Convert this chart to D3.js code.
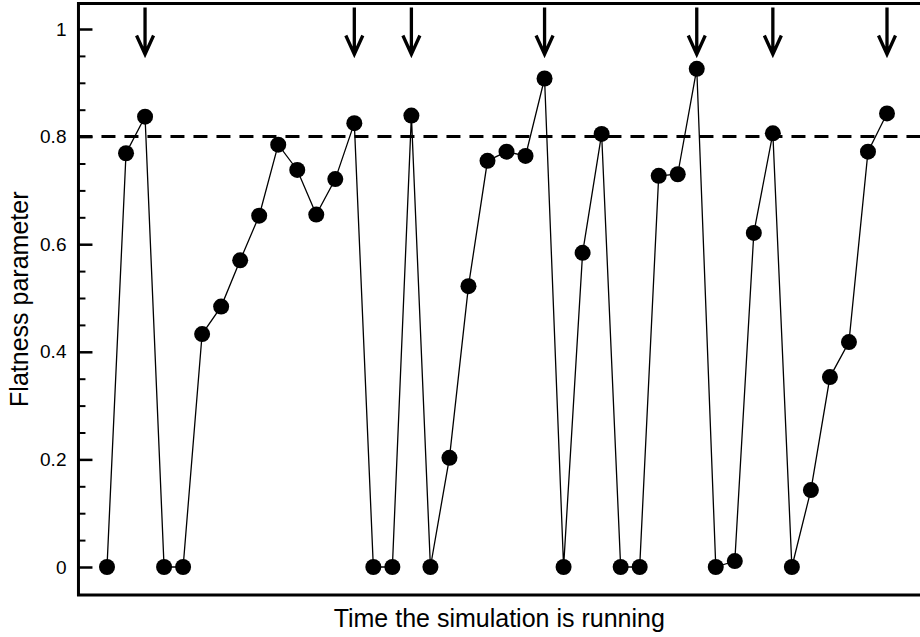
<!DOCTYPE html>
<html>
<head>
<meta charset="utf-8">
<script src="https://cdn.jsdelivr.net/npm/d3@7"></script>
<style>
  body { margin: 0; background: #fff; }
  svg { display: block; font-family: "Liberation Sans", Arial, Helvetica, sans-serif; }
  .tick text { font-size: 19px; fill: #000; }
  .axis-title { font-size: 25px; fill: #000; }
</style>
</head>
<body>
<svg class="chart"></svg>
<script>
// flatness parameter at each step of the simulation
var flatness = [
  0, 0.769, 0.837, 0, 0, 0.433, 0.484, 0.570, 0.653, 0.785,
  0.738, 0.655, 0.721, 0.825, 0, 0, 0.839, 0, 0.203, 0.522,
  0.755, 0.772, 0.764, 0.908, 0, 0.584, 0.805, 0, 0, 0.727,
  0.730, 0.926, 0, 0.011, 0.621, 0.806, 0, 0.143, 0.353, 0.418,
  0.772, 0.843
];
// steps marked with an arrow
var arrowSteps = [2, 13, 16, 23, 31, 35, 41];
var threshold = 0.8;
var yTickValues = [0, 0.2, 0.4, 0.6, 0.8, 1];
var yTickLabels = ["0", "0.2", "0.4", "0.6", "0.8", "1"];
var yMinorTicks = [0.05, 0.1, 0.15, 0.25, 0.3, 0.35, 0.45, 0.5, 0.55, 0.65, 0.7, 0.75, 0.85, 0.9, 0.95];

var width = 920, height = 637;

var x = d3.scaleLinear()
  .domain([0, flatness.length - 1])
  .range([107, 887]);
var y = d3.scaleLinear()
  .domain([0, 1])
  .range([567, 29]);

// frame edges in data units
var xLeft = -1.5, xRight = 43.5, yBottom = -0.052, yTop = 1.0475;

var svg = d3.select(".chart")
  .attr("width", width)
  .attr("height", height);

// frame
svg.append("path")
  .attr("d", "M" + x(xRight) + "," + y(yTop) + "H" + x(xLeft) + "V" + y(yBottom) + "H" + x(xRight))
  .attr("fill", "none")
  .attr("stroke", "#000")
  .attr("stroke-width", 3);

// inward ticks
var yAxis = d3.axisLeft(y)
  .tickValues(yTickValues)
  .tickFormat(function(d, i) { return yTickLabels[i]; })
  .tickSize(-14)
  .tickPadding(12);
var yMinor = d3.axisLeft(y)
  .tickValues(yMinorTicks)
  .tickFormat("")
  .tickSize(-7);

svg.append("g")
  .attr("transform", "translate(" + x(xLeft) + ",0)")
  .call(yAxis)
  .call(function(g) { g.select(".domain").remove(); })
  .call(function(g) { g.selectAll(".tick line").attr("stroke-width", 2.5); })
  .call(function(g) { g.selectAll(".tick text").attr("font-family", null).attr("font-size", null); });
svg.append("g")
  .attr("transform", "translate(" + x(xLeft) + ",0)")
  .call(yMinor)
  .call(function(g) { g.select(".domain").remove(); })
  .call(function(g) { g.selectAll(".tick line").attr("stroke-width", 2); });

// threshold line
svg.append("line")
  .attr("x1", x(xLeft))
  .attr("x2", x(xRight))
  .attr("y1", y(threshold))
  .attr("y2", y(threshold))
  .attr("stroke", "#000")
  .attr("stroke-width", 3)
  .attr("stroke-dasharray", "14,9");

var line = d3.line()
  .x(function(d, i) { return x(i); })
  .y(function(d) { return y(d); });

svg.append("path")
  .datum(flatness)
  .attr("d", line)
  .attr("fill", "none")
  .attr("stroke", "#000")
  .attr("stroke-width", 1.3);

svg.selectAll("circle")
  .data(flatness)
  .enter().append("circle")
    .attr("r", 8)
    .attr("fill", "#000")
    .attr("cx", function(d, i) { return x(i); })
    .attr("cy", function(d) { return y(d); });

// arrows
var arrows = svg.selectAll(".arrow")
  .data(arrowSteps)
  .enter().append("path")
    .attr("class", "arrow")
    .attr("fill", "none")
    .attr("stroke", "#000")
    .attr("stroke-width", 3.3)
    .attr("d", function(i) {
      var cx = x(i), top = y(1.04), tip = y(0.953), wing = y(0.988);
      return "M" + cx + "," + top + "V" + tip +
        "M" + (cx - 8.5) + "," + wing + "L" + cx + "," + tip + "L" + (cx + 8.5) + "," + wing;
    });

// axis titles
svg.append("text")
  .attr("class", "axis-title")
  .attr("x", (x(xLeft) + width) / 2)
  .attr("y", 627)
  .attr("text-anchor", "middle")
  .text("Time the simulation is running");

svg.append("text")
  .attr("class", "axis-title")
  .attr("transform", "translate(28," + ((y(yTop) + y(yBottom)) / 2) + ") rotate(-90)")
  .attr("text-anchor", "middle")
  .text("Flatness parameter");
</script>
</body>
</html>
